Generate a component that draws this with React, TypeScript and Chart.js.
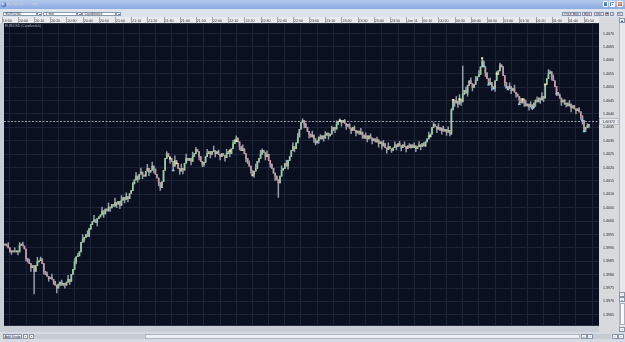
import React, { useEffect, useRef } from "react";
import { Chart, registerables } from "chart.js";

Chart.register(...registerables);

// ---------- data ----------
// minutes relative to 20:00 (Jun 10); prices stored as pips above 1.3900
const BASE_PRICE = 1.39;
const FIRST_MINUTE = -8;
const FIRST_OPEN = 91.0;
const closePips = [
  91.4, 90.7, 90, 88.5, 88.9, 88.5, 88.5, 88.9, 88.5, 91, 91.4, 90.7, 89.6, 86, 84.8, 84.1, 82.6, 83.4,
  81.2, 83.4, 84.8, 85.2, 85.9, 84.1, 81.2, 80.1, 79.4, 78.6,
  79, 78.3, 77.5, 76.1, 75, 76.5, 77.2, 76.1, 76.8, 76.1,
  77.2, 78.3, 77.5, 80.1, 82, 84.8, 86.7, 87, 88.5, 92.1,
  93.2, 93.9, 95, 94.3, 97.2, 98.7, 99.8, 100.5, 99.4, 100.9,
  101.6, 102.3, 103.8, 102.7, 104.5, 103.8, 105.2, 104.9, 106.3, 105.6,
  107, 106.3, 107.4, 105.9, 107.8, 108.8, 108.1, 109.2, 108.4, 110.3,
  111.4, 113.9, 115.4, 116.8, 115.7, 117.5, 118.3, 117.2, 116.8, 118.6,
  119.7, 118.3, 119, 120.5, 119.4, 117.5, 116.1, 114.3, 112.5, 114.7,
  119, 123.4, 125.2, 124.1, 123.4, 122.3, 120.5, 122.7, 121.6, 119.7,
  118.6, 119.7, 119, 121.6, 123.4, 122.7, 123.4, 122.3, 124.1, 125.2,
  126.7, 126, 124.1, 122.3, 121.2, 121.9, 124.1, 125.2, 126, 124.9,
  126, 126.3, 125.2, 126, 124.9, 124.1, 125.2, 124.5, 123.7, 125.2,
  126, 125.2, 127, 128.9, 130.3, 131, 129.6, 127.8, 126.3, 127,
  125.2, 123.4, 121.6, 120.5, 119, 117.5, 118.6, 119.7, 122.3, 123.4,
  124.9, 126.3, 125.6, 124.1, 124.9, 122.7, 121.2, 119.7, 117.9, 116.8,
  115.4, 114.3, 116.8, 119, 119.7, 121.6, 120.5, 122.7, 124.1, 126.3,
  127.8, 127, 129.2, 131.4, 134.3, 136.8, 137.6, 136.1, 135, 133.5,
  132.5, 131.4, 132.1, 130.7, 129.2, 130, 131.4, 130.7, 131.8, 131,
  132.1, 132.9, 131.8, 132.5, 133.9, 135, 134.3, 136.1, 137.2, 137.6,
  136.8, 137.6, 136.5, 135.4, 136.1, 134.7, 133.9, 135, 133.9, 132.9,
  133.6, 132.5, 133.2, 132.1, 131, 131.8, 130.7, 131.8, 131, 130,
  130.7, 129.6, 130.3, 128.9, 129.6, 128.1, 128.9, 127.4, 126.7, 127.8,
  127, 126.3, 127.4, 128.5, 127.8, 128.9, 128.1, 127.4, 128.5, 127.8,
  127, 128.1, 127.4, 128.5, 127.4, 128.1, 127, 127.8, 128.5, 127.8,
  128.9, 128.1, 129.6, 130.7, 131.8, 132.5, 135, 136.1, 135.4, 134.3,
  135, 133.9, 134.7, 133.6, 134.3, 133.2, 133.9, 132.5, 141.5, 145.2,
  144.1, 144.8, 143.7, 145.6, 144.5, 147.4, 148.8, 147.8, 150.6, 152.4,
  151.3, 149.9, 151, 152.4, 153.9, 154.7, 157.6, 159.7, 157.6, 155.4,
  153.2, 151, 151.7, 150.2, 149.5, 152.4, 154.7, 156.1, 158.3, 157.6,
  154.3, 151.7, 150.2, 149.5, 150.2, 148.8, 149.5, 148.1, 147.4, 146.6,
  145.2, 144.1, 145.6, 144.1, 143, 143.7, 142.6, 143.4, 142.3, 144.1,
  145.2, 144.5, 145.9, 145.2, 146.6, 145.9, 151, 153.2, 155, 155.7,
  153.9, 152.4, 150.2, 148.1, 147, 145.9, 144.5, 145.2, 143.7, 144.1,
  143, 143.7, 142.3, 143, 141.9, 141.2, 141.9, 140.8, 139.3, 137.6,
  134.3, 135, 135.4, 136.1,
];
// [minute, pips] wick extremes beyond the candle body
const extraHighs: [number, number][] = [
  [-6, 92], [-2, 90], [1, 92], [3, 92.2], [7, 85.8], [12, 86.5], [14, 86.6], [18, 81], [21, 80.2],
  [27, 78], [31, 79.8], [35, 86], [37, 88], [40, 95], [43, 96.4], [47, 102.2], [52, 105.2],
  [56, 106.8], [60, 108.6], [64, 109.5], [67, 110.6], [71, 114.5], [73, 118.2], [76, 119.8],
  [80, 121.2], [83, 122], [92, 126], [97, 124.4], [101, 121.3], [104, 125], [108, 125.8],
  [110, 127.5], [113, 124], [117, 126.8], [121, 128], [124, 126.5], [129, 126.8], [133, 130.2],
  [135, 131.8], [139, 128.5], [143, 122.5], [147, 121.3], [150, 126.4], [151, 127], [154, 126.2],
  [157, 121.4], [163, 120.6], [166, 122.8], [170, 129.2], [173, 132.8], [176, 138.2], [178, 136.6],
  [182, 133.6], [187, 132.3], [190, 133.4], [194, 135.5], [197, 137.4], [199, 138.2], [202, 138],
  [205, 136.4], [208, 135.6], [212, 134.6], [215, 133], [218, 132.6], [222, 131.4], [226, 130.2],
  [229, 129.2], [233, 129.6], [236, 129.8], [239, 129.6], [242, 128.9], [245, 129.2], [248, 129.7],
  [251, 129.4], [254, 133.2], [257, 136.8], [260, 136.4], [263, 135.5], [266, 135.2], [268, 142],
  [271, 146.5], [273, 147.2], [275, 157.9], [277, 150], [280, 153.5], [283, 154], [285, 156.2],
  [287, 160.8], [290, 155], [292, 153.4], [296, 155.8], [298, 159], [300, 157.8], [304, 151.6],
  [307, 150.8], [311, 145.8], [314, 145.2], [317, 144.6], [321, 146.4], [324, 148], [328, 156.6],
  [329, 156.2], [331, 154.6], [335, 147.5], [338, 145.4], [341, 145], [344, 143.2], [347, 142.4],
  [352, 136.4],
];
const extraLows: [number, number][] = [
  [-4, 87.6], [0, 87.4], [5, 85], [8, 81.2], [10, 72.8], [16, 80.2], [19, 77.6], [22, 76.4],
  [24, 73.2], [26, 75.8], [29, 75], [32, 76.4], [36, 84], [41, 92.2], [45, 96.8], [49, 98.2],
  [53, 101.4], [57, 103.6], [61, 105], [63, 104.6], [66, 106.8], [68, 107.2], [74, 114.5],
  [77, 115.8], [81, 117], [84, 118], [87, 113.2], [88, 111.5], [94, 121.6], [96, 119], [100, 117.4],
  [102, 117.6], [107, 121], [112, 122.8], [114, 120.3], [115, 120.4], [119, 123.6], [122, 124],
  [125, 122.8], [128, 122.4], [131, 124], [137, 126.6], [141, 122.2], [144, 117.8], [146, 116.4],
  [149, 121.8], [153, 122.8], [156, 120], [159, 115.2], [161, 108.8], [165, 119.6], [167, 119.4],
  [171, 125.8], [177, 134.8], [180, 131], [183, 129.4], [184, 128.4], [186, 129], [189, 129.8],
  [192, 130.6], [196, 133], [200, 135.4], [203, 134.2], [206, 132.6], [209, 131.8], [213, 130.9],
  [216, 129.6], [219, 128.8], [223, 127.6], [225, 126.9], [228, 125.4], [231, 125.6], [234, 126.6],
  [237, 126.2], [240, 125.8], [243, 127.2], [246, 125.9], [249, 126.6], [252, 127.8], [259, 133],
  [262, 132.5], [265, 132], [267, 131.8], [270, 142.8], [272, 142.4], [274, 143.2], [278, 146.6],
  [281, 148.6], [289, 154], [293, 148.8], [295, 148.4], [301, 150.4], [305, 147.6], [308, 146.2],
  [310, 143.8], [313, 142.8], [316, 141.4], [318, 141.6], [320, 142.8], [323, 143.9], [325, 144.6],
  [330, 152.6], [333, 146.8], [336, 143.2], [339, 142.6], [342, 140.8], [345, 140], [348, 138],
  [349, 136.2], [350, 133.5], [351, 133.4], [353, 134.8],
];
const highMarkers: [number, number][] = [
  [94, 123.4], [98, 121.6], [131, 126.3], [135, 129.9], [145, 117.1], [199, 137.5],
  [255, 131.7], [269, 145.2], [273, 145.5], [287, 160.8], [296, 155], [312, 145.5], [326, 151],
];
const lowMarkers: [number, number][] = [
  [96, 119], [288, 157.9], [291, 151], [294, 149.5], [302, 149.9], [303, 149.2],
  [310, 143.7], [318, 142.3], [333, 147.7], [349, 137.6], [350, 133.5],
];
const timeTicks = [
  -10, 0, 10, 20, 30, 40, 50, 60, 70, 80, 90, 100, 110, 120, 130, 140, 150, 160, 170,
  180, 190, 200, 210, 220, 230, 240, 250, 260, 270, 280, 290, 300, 310, 320, 330, 340, 350,
];
const timeLabels = [
  "19:50", "20:00", "20:10", "20:20", "20:30", "20:40", "20:50", "21:00", "21:10", "21:20",
  "21:30", "21:40", "21:50", "22:00", "22:10", "22:20", "22:30", "22:40", "22:50", "23:00",
  "23:10", "23:20", "23:30", "23:40", "23:50", "Jun 11", "00:10", "00:20", "00:30", "00:40",
  "00:50", "01:00", "01:10", "01:20", "01:30", "01:40", "01:50",
];
const priceTicks = [
  1.3965, 1.397, 1.3975, 1.398, 1.3985, 1.399, 1.3995, 1.4, 1.4005, 1.401, 1.4015,
  1.402, 1.4025, 1.403, 1.4035, 1.404, 1.4045, 1.405, 1.4055, 1.406, 1.4065, 1.407,
];
const currentPrice = 1.40372;
const currentPriceLabel = "1.40372";
const xMin = -8.64;
const xMax = 359.26;
const yMin = 1.39609;
const yMax = 1.40739;

// ---------- styles ----------
const FONT = '"Liberation Sans", Arial, sans-serif';
const UP = "#96cf9e";
const DOWN = "#cc97a5";
const WICK = "#98a0ad";
const GRID = "#1c2537";
const BG = "#0b1020";

const toPrice = (p: number) => BASE_PRICE + p / 10000;

function buildData() {
  const highMap = new Map(extraHighs);
  const lowMap = new Map(extraLows);
  const minutes = closePips.map((_, i) => FIRST_MINUTE + i);
  const opens = closePips.map((c, i) => (i === 0 ? FIRST_OPEN : closePips[i - 1]));
  const highs = closePips.map((c, i) => Math.max(opens[i], c, highMap.get(minutes[i]) ?? -1));
  const lows = closePips.map((c, i) => Math.min(opens[i], c, lowMap.get(minutes[i]) ?? 1e9));
  return { minutes, opens, highs, lows };
}

const chromePlugin = {
  id: "chrome",
  beforeDraw(chart: any) {
    const { ctx, chartArea: a, width, height } = chart;
    ctx.save();
    ctx.fillStyle = "#c9ced6";
    ctx.fillRect(0, 0, width, height);
    ctx.fillStyle = "#e9eaec";
    ctx.fillRect(0, 0, a.right, a.top);
    ctx.fillStyle = "#d7d9dc";
    ctx.fillRect(a.right, 0, width - a.right, height);
    ctx.fillStyle = BG;
    ctx.fillRect(a.left, a.top, a.right - a.left, a.bottom - a.top);
    const xs = chart.scales.x;
    ctx.strokeStyle = "#a3a8b0";
    ctx.lineWidth = 1;
    timeTicks.forEach((m) => {
      const px = Math.round(xs.getPixelForValue(m)) + 0.5;
      ctx.beginPath();
      ctx.moveTo(px, 0);
      ctx.lineTo(px, a.top);
      ctx.stroke();
    });
    ctx.restore();
  },
  afterDraw(chart: any) {
    const { ctx, chartArea: a, width } = chart;
    const ys = chart.scales.y;
    ctx.save();
    ctx.font = `3.4px ${FONT}`;
    ctx.fillStyle = "#a9b1bf";
    ctx.textBaseline = "top";
    ctx.textAlign = "left";
    ctx.fillText("EUR/USD (Candlestick)", a.left + 1, a.top + 1.5);
    const py = ys.getPixelForValue(currentPrice);
    ctx.fillStyle = "#e6e9ee";
    ctx.fillRect(a.right + 0.5, py - 3, width - a.right - 1.5, 6);
    ctx.strokeStyle = "#5a6a80";
    ctx.lineWidth = 0.6;
    ctx.setLineDash([1, 1]);
    ctx.strokeRect(a.right + 0.5, py - 3, width - a.right - 1.5, 6);
    ctx.setLineDash([]);
    ctx.fillStyle = "#1a1f2a";
    ctx.textAlign = "center";
    ctx.textBaseline = "middle";
    ctx.font = `3.5px ${FONT}`;
    ctx.fillText(currentPriceLabel, a.right + (width - a.right) / 2 - 0.5, py + 0.3);
    ctx.restore();
  },
};

function Btn(props: { left: number; top: number; width: number; height: number; text?: string; bg?: string }) {
  const { left, top, width, height, text, bg } = props;
  return (
    <div
      style={{
        position: "absolute", left, top, width, height, boxSizing: "border-box",
        background: bg || "#f3f5f8", border: "0.6px solid #8594ab", fontSize: 3.5,
        lineHeight: `${height - 1}px`, textAlign: "center", color: "#1c2230",
        whiteSpace: "nowrap", overflow: "hidden",
      }}
    >
      {text}
    </div>
  );
}

function Dropdown(props: { left: number; width: number; text: string }) {
  const { left, width, text } = props;
  return (
    <>
      <div
        style={{
          position: "absolute", left, top: 11.5, width, height: 4.6, boxSizing: "border-box",
          background: "#ffffff", border: "0.6px solid #8798b2", fontSize: 3.5, lineHeight: "3.8px",
          paddingLeft: 1.5, color: "#1a1f2a", whiteSpace: "nowrap",
        }}
      >
        {text}
      </div>
      <div
        style={{
          position: "absolute", left: left + width, top: 11.5, width: 5, height: 4.6, boxSizing: "border-box",
          background: "#ffffff", border: "0.6px solid #8798b2",
        }}
      >
        <div style={{ position: "absolute", left: 1.2, top: 1.3, width: 0, height: 0, borderLeft: "1.1px solid transparent", borderRight: "1.1px solid transparent", borderTop: "1.4px solid #111" }} />
      </div>
    </>
  );
}

export default function App() {
  const ref = useRef<HTMLCanvasElement>(null);

  useEffect(() => {
    document.body.style.margin = "0";
    const { minutes, opens, highs, lows } = buildData();
    const wickData = minutes.map((m, i) => ({ x: m, y: [toPrice(lows[i]), toPrice(highs[i])] }));
    const bodyData = minutes.map((m, i) => ({ x: m, y: [toPrice(opens[i]), toPrice(closePips[i])] }));
    const bodyColors = minutes.map((_, i) => (closePips[i] >= opens[i] ? UP : DOWN));

    const chart = new Chart(ref.current as HTMLCanvasElement, {
      type: "bar",
      data: {
        datasets: [
          {
            type: "line",
            data: highMarkers.map(([m, p]) => ({ x: m, y: toPrice(p) })),
            showLine: false, pointStyle: "rect", pointRadius: 1.5, pointBackgroundColor: "#f2e3a8",
            pointBorderWidth: 0, order: 1,
          },
          {
            type: "line",
            data: lowMarkers.map(([m, p]) => ({ x: m, y: toPrice(p) })),
            showLine: false, pointStyle: "triangle", pointRadius: 1.9, pointBackgroundColor: "#8ccaf2",
            pointBorderWidth: 0, order: 2,
          },
          {
            type: "line",
            data: [{ x: xMin, y: currentPrice }, { x: xMax, y: currentPrice }],
            borderColor: "#c6ccd6", borderWidth: 0.8, borderDash: [2, 1.5], pointRadius: 0, order: 3,
          },
          {
            type: "bar",
            data: bodyData as any,
            backgroundColor: bodyColors, barThickness: 1, grouped: false, order: 4,
          },
          {
            type: "bar",
            data: wickData as any,
            backgroundColor: WICK, barThickness: 0.8, grouped: false, order: 5,
          },
        ] as any,
      },
      options: {
        responsive: false,
        animation: false,
        devicePixelRatio: 1,
        layout: { padding: { left: 3, top: 0, right: 0, bottom: 0 } },
        plugins: { legend: { display: false }, tooltip: { enabled: false }, title: { display: false } },
        scales: {
          x: {
            type: "linear",
            position: "top",
            min: xMin,
            max: xMax,
            offset: false,
            border: { display: false },
            grid: {
              drawTicks: false,
              lineWidth: 1,
              color: (c: any) => (c.tick && c.tick.value < xMin ? "rgba(0,0,0,0)" : GRID),
            },
            ticks: {
              autoSkip: false,
              maxRotation: 0,
              minRotation: 0,
              align: "start",
              padding: 0,
              color: "#2b2f36",
              font: { size: 3.6, family: FONT },
              callback: (v: any) => {
                const i = timeTicks.indexOf(Number(v));
                return i >= 0 ? " " + timeLabels[i] : "";
              },
            },
            afterBuildTicks: (s: any) => {
              s.ticks = timeTicks.map((v) => ({ value: v }));
            },
            afterFit: (s: any) => {
              s.height = 4;
            },
          } as any,
          y: {
            type: "linear",
            position: "right",
            min: yMin,
            max: yMax,
            border: { display: false },
            grid: { drawTicks: false, color: GRID, lineWidth: 1 },
            ticks: {
              autoSkip: false,
              crossAlign: "center",
              padding: 4,
              color: "#23272e",
              font: { size: 3.6, family: FONT },
              callback: (v: any) => Number(v).toFixed(4),
            },
            afterBuildTicks: (s: any) => {
              s.ticks = priceTicks.map((v) => ({ value: v }));
            },
            afterFit: (s: any) => {
              s.width = 20;
            },
          } as any,
        },
      },
      plugins: [chromePlugin],
    } as any);
    return () => chart.destroy();
  }, []);

  return (
    <div
      style={{
        position: "fixed", left: 0, top: 0, width: 625, height: 342, overflow: "hidden",
        background: "#d3d8e0", fontFamily: FONT,
      }}
    >
      {/* title bar */}
      <div style={{ position: "absolute", left: 0, top: 0, width: 625, height: 9.3, background: "linear-gradient(#b4c9ee, #8aaae0)" }} />
      <div style={{ position: "absolute", left: 1, top: 1.5, width: 5, height: 5, borderRadius: "50%", background: "radial-gradient(circle at 35% 35%, #e8f0ff, #3a64b8 70%, #1d3b80)" }} />
      <div style={{ position: "absolute", left: 7, top: 0, height: 9, lineHeight: "8.5px", fontSize: 3.9, color: "#ffffff", whiteSpace: "nowrap", textShadow: "0 0 0.6px #33508a" }}>
        EUR/USD - 1 min
      </div>
      <div style={{ position: "absolute", left: 602.5, top: 1.3, width: 5.6, height: 6, boxSizing: "border-box", borderRadius: 1, background: "linear-gradient(#6e97e8, #3a66cf)", border: "0.5px solid #ffffff" }}>
        <div style={{ position: "absolute", left: 1.2, top: 3.6, width: 2.4, height: 0.8, background: "#fff" }} />
      </div>
      <div style={{ position: "absolute", left: 609, top: 1.3, width: 5.6, height: 6, boxSizing: "border-box", borderRadius: 1, background: "linear-gradient(#6e97e8, #3a66cf)", border: "0.5px solid #ffffff" }}>
        <div style={{ position: "absolute", left: 1, top: 1, width: 2.6, height: 2.6, boxSizing: "border-box", border: "0.6px solid #fff" }} />
      </div>
      <div style={{ position: "absolute", left: 616.5, top: 1.3, width: 6.5, height: 6, boxSizing: "border-box", borderRadius: 1, background: "linear-gradient(#e88a6e, #c8442a)", border: "0.5px solid #ffffff", color: "#fff", fontSize: 4.5, lineHeight: "5px", textAlign: "center" }}>
        ×
      </div>

      {/* toolbar */}
      <div style={{ position: "absolute", left: 0, top: 9.3, width: 625, height: 7.7, background: "#dde3ec" }} />
      <Dropdown left={3} width={34} text="EUR/USD" />
      <Dropdown left={43} width={34} text="1 min" />
      <Dropdown left={82} width={34} text="Candlestick" />
      <Btn left={562} top={11.5} width={18.5} height={4.6} text="Price Box" />
      <Btn left={582} top={11.5} width={10} height={4.6} text="Buy" />
      <Btn left={593.5} top={11.5} width={10} height={4.6} text="Sell" />
      <Btn left={605} top={11.5} width={4} height={4.6} text="▾" />
      <Btn left={609.5} top={11.5} width={4} height={4.6} text="↗" />
      <Btn left={617} top={11.5} width={5.5} height={4.6} text="⇱" bg="#e9edf3" />

      {/* chart */}
      <canvas ref={ref} width={619} height={315} style={{ position: "absolute", left: 0, top: 17, width: 619, height: 315 }} />

      {/* right scrollbar */}
      <div style={{ position: "absolute", left: 619, top: 17, width: 6, height: 315, background: "#e6e8ec", borderLeft: "0.5px solid #b0b6c0", boxSizing: "border-box" }} />
      <Btn left={619.3} top={18} width={5.5} height={5} text="▴" bg="#f2f4f7" />
      <Btn left={619.3} top={291.5} width={5.5} height={5} text="−" bg="#f2f4f7" />
      <Btn left={619.3} top={297} width={5.5} height={5} text="+" bg="#f2f4f7" />
      <div style={{ position: "absolute", left: 619.6, top: 303, width: 5, height: 22, background: "#f7f8fa", border: "0.5px solid #aab1bd", boxSizing: "border-box" }} />
      <Btn left={619.3} top={326.5} width={5.5} height={5} text="−" bg="#f2f4f7" />

      {/* bottom bar */}
      <div style={{ position: "absolute", left: 0, top: 332, width: 625, height: 10, background: "#d6dae2" }} />
      <Btn left={3} top={334} width={19} height={5} text="Add Study" />
      <Btn left={23} top={334} width={4.5} height={5} text="▪" />
      <Btn left={29} top={334} width={4.5} height={5} text="▪" />
      <div style={{ position: "absolute", left: 34, top: 334, width: 546, height: 5, background: "#c6cbd4" }} />
      <div style={{ position: "absolute", left: 145, top: 334, width: 435, height: 5, boxSizing: "border-box", background: "#eef0f3", border: "0.5px solid #aeb5c0" }} />
      <Btn left={581} top={334} width={5.5} height={5} text="+" />
      <Btn left={587} top={334} width={5.5} height={5} text="−" />
      <div style={{ position: "absolute", left: 593, top: 334, width: 18, height: 5, background: "#c6cbd4" }} />
      <Btn left={612} top={334} width={5.5} height={5} text="‹" />
      <Btn left={618} top={334} width={5.5} height={5} text="›" />
    </div>
  );
}
